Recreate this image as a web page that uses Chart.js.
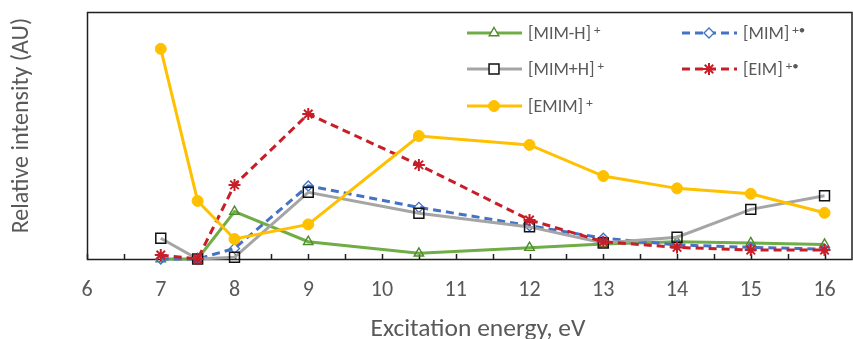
<!DOCTYPE html>
<html>
<head>
<meta charset="utf-8">
<script src="https://cdn.jsdelivr.net/npm/chart.js@4.4.1/dist/chart.umd.min.js"></script>
<style>
  html, body { margin: 0; padding: 0; background: #ffffff; }
  #wrap { width: 853px; height: 339px; position: relative; }
</style>
</head>
<body>
<div id="wrap"><canvas id="c" width="853" height="339"></canvas></div>
<script>
// ---------- DATA ----------
const energies   = [7, 7.5, 8, 9, 10.5, 12, 13, 14, 15, 16];
const mimMinusH  = [0, 0, 19.2, 7.0, 2.3, 4.6, 6.1, 7.0, 6.5, 5.9];
const mimRadical = [0, 0, 4.3, 29.6, 20.9, 13.5, 8.4, 5.7, 4.7, 4.0];
const mimPlusH   = [8.4, 0, 0.7, 27.0, 18.5, 13.0, 6.5, 8.8, 20.1, 25.6];
const eimRadical = [1.6, 0, 30.0, 58.7, 38.1, 15.8, 7.0, 4.7, 3.6, 3.6];
const emim       = [85.1, 23.5, 8.1, 14.0, 49.8, 46.2, 33.6, 28.6, 26.4, 18.7];

const seriesNames   = ['[MIM-H]', '[MIM]', '[MIM+H]', '[EIM]', '[EMIM]'];
const seriesCharges = ['+', '+\u2022', '+', '+\u2022', '+'];
const xTickValues   = [6, 6.5, 7, 7.5, 8, 8.5, 9, 9.5, 10, 10.5, 11, 11.5, 12, 12.5, 13, 13.5, 14, 14.5, 15, 15.5, 16];
const xTitle = 'Excitation energy, eV';
const yTitle = 'Relative intensity (AU)';

const FONT = 'Carlito, Lato, "Liberation Sans", sans-serif';
const TEXT_COLOR = '#595959';

function pts(ys) { return energies.map((e, i) => ({ x: e, y: ys[i] })); }

const datasets = [
  { label: seriesNames[0], data: pts(mimMinusH), borderColor: '#70AD47', borderWidth: 3, borderDash: [],
    pointStyle: 'triangle', pointRadius: 5.5, pointBorderWidth: 1.4, pointBorderColor: '#4F8A2E', pointBackgroundColor: 'rgba(255,255,255,0)', order: 5 },
  { label: seriesNames[1], data: pts(mimRadical), borderColor: '#4472C4', borderWidth: 3, borderDash: [8, 5],
    pointStyle: 'rectRot', pointRadius: 5, pointBorderWidth: 1.4, pointBorderColor: '#4472C4', pointBackgroundColor: 'rgba(255,255,255,0)', order: 4 },
  { label: seriesNames[2], data: pts(mimPlusH), borderColor: '#A5A5A5', borderWidth: 3, borderDash: [],
    pointStyle: 'rect', pointRadius: 7, pointBorderWidth: 1.5, pointBorderColor: '#111111', pointBackgroundColor: 'rgba(255,255,255,0)', order: 3 },
  { label: seriesNames[3], data: pts(eimRadical), borderColor: '#C81E28', borderWidth: 3, borderDash: [8, 5],
    pointStyle: 'star', pointRadius: 6, pointBorderWidth: 2, pointBorderColor: '#C81E28', pointBackgroundColor: '#C81E28', order: 2 },
  { label: seriesNames[4], data: pts(emim), borderColor: '#FFC000', borderWidth: 3, borderDash: [],
    pointStyle: 'circle', pointRadius: 5.5, pointBorderWidth: 1, pointBorderColor: '#FFC000', pointBackgroundColor: '#FFC000', order: 1 }
].map(d => Object.assign(d, { fill: false, tension: 0, clip: false, pointHoverRadius: d.pointRadius }));

// ---------- PLUGINS ----------
const framePlugin = {
  id: 'frame',
  beforeDatasetsDraw(chart) {
    const { ctx, chartArea: a, scales: { x } } = chart;
    ctx.save();
    ctx.strokeStyle = '#1f1f1f';
    ctx.lineWidth = 1.5;
    ctx.setLineDash([]);
    ctx.strokeRect(a.left + 0.5, a.top + 0.5, a.right - a.left - 1.5, a.bottom - a.top);
    ctx.beginPath();
    x.ticks.forEach(t => {
      const px = Math.round(x.getPixelForValue(t.value)) + 0.5;
      ctx.moveTo(px, a.bottom);
      ctx.lineTo(px, a.bottom - 5);
    });
    ctx.stroke();
    ctx.restore();
  }
};

const legendPlugin = {
  id: 'customLegend',
  afterDraw(chart) {
    const { ctx } = chart;
    const slots = [
      { x: 467, y: 33 }, { x: 682, y: 33 },
      { x: 467, y: 69 }, { x: 682, y: 69 },
      { x: 467, y: 106 }
    ];
    ctx.save();
    chart.data.datasets.forEach((ds, i) => {
      const s = slots[i];
      ctx.beginPath();
      ctx.strokeStyle = ds.borderColor;
      ctx.lineWidth = ds.borderWidth;
      ctx.setLineDash(ds.borderDash || []);
      ctx.moveTo(s.x, s.y);
      ctx.lineTo(s.x + 55, s.y);
      ctx.stroke();
      ctx.setLineDash([]);
      ctx.strokeStyle = ds.pointBorderColor;
      ctx.fillStyle = (ds.pointStyle === 'circle') ? ds.pointBackgroundColor : '#ffffff';
      ctx.lineWidth = ds.pointBorderWidth;
      if (Chart.helpers && Chart.helpers.drawPoint) {
        Chart.helpers.drawPoint(ctx, { pointStyle: ds.pointStyle, radius: ds.pointRadius, borderWidth: ds.pointBorderWidth, rotation: 0 }, s.x + 27, s.y);
      }
      ctx.fillStyle = TEXT_COLOR;
      ctx.textAlign = 'left';
      ctx.textBaseline = 'alphabetic';
      ctx.font = '18px ' + FONT;
      const name = seriesNames[i];
      ctx.fillText(name, s.x + 61, s.y + 6);
      const w = ctx.measureText(name).width;
      ctx.font = '13px ' + FONT;
      ctx.fillText(seriesCharges[i], s.x + 61 + w + 3, s.y + 1);
    });
    ctx.restore();
  }
};

const titlesPlugin = {
  id: 'axisTitles',
  afterDraw(chart) {
    const { ctx } = chart;
    ctx.save();
    ctx.fillStyle = TEXT_COLOR;
    ctx.textAlign = 'center';
    ctx.textBaseline = 'alphabetic';
    ctx.font = '25.5px ' + FONT;
    ctx.fillText(xTitle, 478, 336);
    ctx.font = '24px ' + FONT;
    ctx.translate(28, 125.5);
    ctx.rotate(-Math.PI / 2);
    ctx.fillText(yTitle, 0, 0);
    ctx.restore();
  }
};

// ---------- CHART ----------
new Chart(document.getElementById('c'), {
  type: 'line',
  data: { datasets },
  plugins: [framePlugin, legendPlugin, titlesPlugin],
  options: {
    responsive: false,
    devicePixelRatio: 1,
    animation: false,
    events: [],
    layout: { autoPadding: false, padding: { top: 12, left: 0, right: 0, bottom: 0 } },
    plugins: { legend: { display: false }, tooltip: { enabled: false } },
    scales: {
      x: {
        type: 'linear',
        position: 'bottom',
        min: 6,
        max: 16.386,
        grid: { display: false, drawTicks: false },
        border: { display: false },
        afterBuildTicks: (scale) => { scale.ticks = xTickValues.map(v => ({ value: v })); },
        afterFit: (scale) => { scale.height = 80; scale.paddingLeft = 0; scale.paddingRight = 0; },
        ticks: {
          autoSkip: false,
          maxRotation: 0,
          padding: 18,
          color: TEXT_COLOR,
          font: { family: FONT, size: 22, lineHeight: 1.2 },
          callback: (v) => Number.isInteger(v) ? String(v) : ''
        }
      },
      y: {
        type: 'linear',
        min: 0,
        max: 100,
        grid: { display: false, drawTicks: false },
        border: { display: false },
        ticks: { display: false },
        afterFit: (scale) => { scale.width = 87; scale.paddingTop = 0; scale.paddingBottom = 0; }
      }
    }
  }
});
</script>
</body>
</html>
